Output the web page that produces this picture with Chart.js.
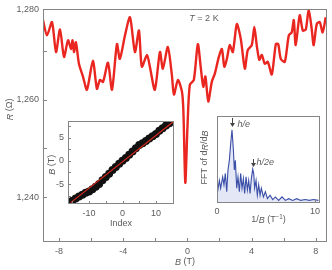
<!DOCTYPE html>
<html>
<head>
<meta charset="utf-8">
<script src="https://cdn.jsdelivr.net/npm/chart.js@4"></script>
<style>
body { margin: 0; background: #fff; }
#wrap { position: relative; width: 332px; height: 270px; }
canvas { position: absolute; }
</style>
</head>
<body>
<div id="wrap">
<canvas id="main" width="332" height="270" style="left:0px;top:0px"></canvas>
<canvas id="idx" width="134" height="120" style="left:44px;top:112px"></canvas>
<canvas id="fft" width="128" height="120" style="left:198px;top:110px"></canvas>
</div>
<script>
// main trace, R against B
const fieldB = [-9.00,-8.75,-8.44,-8.19,-7.94,-7.69,-7.44,-7.25,-7.16,-7.07,-6.95,-6.76,-6.51,-6.26,-5.89,-5.64,-5.45,-5.26,-4.95,-4.70,-4.39,-4.21,-3.89,-3.58,-3.27,-3.02,-2.84,-2.52,-2.34,-2.03,-1.71,-1.53,-1.22,-0.97,-0.84,-0.59,-0.34,-0.25,-0.13,0.00,0.15,0.40,0.65,0.84,0.99,1.12,1.30,1.52,1.71,1.96,2.15,2.30,2.46,2.64,2.83,3.08,3.33,3.58,3.76,4.01,4.17,4.32,4.48,4.64,4.82,5.01,5.26,5.51,5.66,5.82,6.07,6.32,6.50,6.63,6.75,7.00,7.19,7.38,7.56,7.75,7.87,8.06,8.25,8.43,8.62];
const resistance = [1276.2,1273.1,1275.8,1269.7,1274.3,1268.7,1272.1,1270.3,1272.1,1269.7,1271.7,1267.3,1264.7,1262.0,1267.9,1262.2,1264.0,1263.6,1267.5,1262.0,1271.3,1268.3,1273.1,1276.8,1269.7,1274.1,1266.7,1269.1,1266.7,1262.0,1269.7,1266.3,1270.7,1265.1,1261.0,1264.0,1261.6,1257.6,1243.0,1254.1,1263.0,1264.0,1271.3,1266.3,1262.6,1264.7,1259.6,1263.6,1265.3,1268.7,1270.3,1266.7,1268.3,1271.1,1269.7,1275.4,1272.3,1266.3,1270.1,1271.1,1274.8,1271.1,1268.1,1269.1,1267.3,1267.7,1265.1,1271.3,1271.3,1268.3,1267.7,1273.1,1273.7,1276.2,1271.1,1277.2,1274.1,1274.3,1278.4,1274.3,1271.1,1275.4,1275.8,1273.7,1276.8];
const bTicks = [-8, -6, -4, -2, 0, 2, 4, 6, 8];
const bTickLabels = ['-8', '', '-4', '', '0', '', '4', '', '8'];
const rTicks = [1240, 1250, 1260, 1270, 1278.4];
const rTickLabels = ['1,240', '', '1,260', '', '1,280'];

// left inset, B against Landau index
const landauIndex = [-15,-14,-13,-12,-11,-10,-9,-8,-7,-6,-5,-4,-3,-2,-1,0,1,2,3,4,5,6,7,8,9,10,11,12,13,14,15];
const indexField = [-8.6,-8.1,-7.7,-7.3,-6.9,-6.6,-6.1,-5.6,-5.0,-4.2,-3.5,-2.8,-2.0,-1.3,-0.6,0.0,0.6,1.3,2.0,2.7,3.4,3.8,4.3,4.8,5.3,5.8,6.5,7.0,7.6,8.1,8.5];
const fitIndex = [-15.5, 15.5];
const fitField = [-9.0, 8.6];
const idxTicks = [-15, -10, -5, 0, 5, 10, 15];
const idxTickLabels = ['', '-10', '', '0', '', '10', ''];
const ibTicks = [-7.5, -5, -2.5, 0, 2.5, 5, 7.5];
const ibTickLabels = ['', '-5', '', '0', '', '5', ''];

// right inset, FFT of dR/dB
const inverseB = [0.03,0.24,0.37,0.58,0.71,0.85,0.99,1.12,1.26,1.40,1.53,1.67,1.77,1.87,2.01,2.14,2.28,2.41,2.55,2.69,2.82,2.96,3.10,3.23,3.37,3.50,3.64,3.74,3.84,3.98,4.11,4.25,4.39,4.52,4.73,4.93,5.14,5.41,5.68,5.95,6.29,6.63,6.97,7.31,7.72,8.13,8.54,8.98,9.42,9.83,10.34];
const fftAmp = [11,26,17,30,21,34,13,38,49,69,84,61,38,49,17,30,13,34,17,28,11,30,15,26,11,28,39,34,17,26,9,21,9,17,7,13,5,9,4,7,3,7,3,5,3,5,3,4,3,4,3];
const peakHe = 1.53;
const peakH2e = 3.64;

const FONT = '"Liberation Sans", Arial, sans-serif';
const TXT = '#5c5c5c';
const FRAME = '#858585';

function richText(ctx, parts, x, y, rot, size) {
  ctx.save();
  ctx.translate(x, y);
  ctx.rotate(rot || 0);
  ctx.fillStyle = TXT;
  ctx.textBaseline = 'middle';
  const fontOf = p => (p[1] ? 'italic ' : '') + (p[2] ? size * 0.7 : size) + 'px ' + FONT;
  let total = 0;
  parts.forEach(p => { ctx.font = fontOf(p); total += ctx.measureText(p[0]).width; });
  let cx = -total / 2;
  parts.forEach(p => {
    ctx.font = fontOf(p);
    ctx.fillText(p[0], cx, p[2] ? -size * 0.3 : 0);
    cx += ctx.measureText(p[0]).width;
  });
  ctx.restore();
}

// box, inward ticks and the free texts of one panel
function framePlugin(tick, texts, extra) {
  return {
    id: 'frame',
    afterDatasetsDraw(chart) {
      const ctx = chart.ctx;
      const a = chart.chartArea;
      const xs = chart.scales.x, ys = chart.scales.y;
      ctx.save();
      ctx.strokeStyle = FRAME;
      ctx.lineWidth = 1;
      ctx.strokeRect(Math.round(a.left) + 0.5, Math.round(a.top) + 0.5, Math.round(a.right - a.left) - 1, Math.round(a.bottom - a.top) - 1);
      ctx.beginPath();
      xs.ticks.forEach(t => {
        const px = Math.round(xs.getPixelForValue(t.value)) + 0.5;
        ctx.moveTo(px, a.bottom);
        ctx.lineTo(px, a.bottom - tick);
      });
      if (ys.options.ticks.display !== false) {
        ys.ticks.forEach(t => {
          const py = Math.round(ys.getPixelForValue(t.value)) + 0.5;
          ctx.moveTo(a.left, py);
          ctx.lineTo(a.left + tick, py);
        });
      }
      ctx.stroke();
      texts.forEach(t => richText(ctx, t.parts, t.x(a), t.y(a), t.rot, t.size));
      if (extra) extra(chart);
      ctx.restore();
    }
  };
}

function tickAxis(values, labels, extra) {
  return Object.assign({
    type: 'linear',
    grid: { display: false, drawTicks: false },
    border: { display: false },
    afterBuildTicks: axis => { axis.ticks = values.map(v => ({ value: v })); },
    ticks: {
      autoSkip: false,
      maxRotation: 0,
      color: TXT,
      font: { family: FONT, size: 9 },
      callback: v => labels[values.indexOf(v)] ?? ''
    }
  }, extra);
}

Chart.defaults.font.family = FONT;

new Chart(document.getElementById('main'), {
  type: 'line',
  data: {
    datasets: [{
      data: fieldB.map((b, i) => ({ x: b, y: resistance[i] })),
      borderColor: '#ea2620',
      borderWidth: 2.4,
      pointRadius: 0,
      tension: 0.25
    }]
  },
  options: {
    responsive: false,
    animation: false,
    layout: { padding: { left: 0, right: 5, top: 7, bottom: 0 } },
    plugins: { legend: { display: false }, tooltip: { enabled: false } },
    scales: {
      x: tickAxis(bTicks, bTickLabels, { min: -9, max: 8.7, afterFit: s => { s.height = 28; } }),
      y: tickAxis(rTicks, rTickLabels, { min: 1230.9, max: 1278.4, afterFit: s => { s.width = 43; } })
    }
  },
  plugins: [framePlugin(4, [
    { parts: [['R', true], [' (Ω)']], x: a => a.left - 33, y: a => a.top + 100, rot: -Math.PI / 2, size: 9 },
    { parts: [['B', true], [' (T)']], x: a => (a.left + a.right) / 2, y: a => a.bottom + 20, size: 9 },
    { parts: [['T', true], [' = 2 K']], x: a => a.left + 161, y: a => a.top + 9, size: 9 }
  ])]
});

// tick label padding for the main axes
const mainChart = Chart.getChart('main');
mainChart.options.scales.x.ticks.padding = 4;
mainChart.options.scales.y.ticks.padding = 4;
mainChart.update();

new Chart(document.getElementById('idx'), {
  type: 'line',
  data: {
    datasets: [{
      data: fitIndex.map((n, i) => ({ x: n, y: fitField[i] })),
      borderColor: '#d8281e',
      borderWidth: 1.2,
      pointRadius: 0
    }, {
      data: landauIndex.map((n, i) => ({ x: n, y: indexField[i] })),
      showLine: false,
      pointRadius: 4,
      pointBackgroundColor: '#111',
      pointBorderWidth: 0
    }]
  },
  options: {
    responsive: false,
    animation: false,
    layout: { padding: { left: 0, right: 4, top: 5, bottom: 0 } },
    plugins: { legend: { display: false }, tooltip: { enabled: false } },
    scales: {
      x: tickAxis(idxTicks, idxTickLabels, { min: -16.3, max: 15.4, afterFit: s => { s.height = 28; } }),
      y: tickAxis(ibTicks, ibTickLabels, { min: -9.3, max: 8.5, afterFit: s => { s.width = 24; } })
    }
  },
  plugins: [framePlugin(3, [
    { parts: [['B', true], [' (T)']], x: a => a.left - 16, y: a => (a.top + a.bottom) / 2 + 2, rot: -Math.PI / 2, size: 9 },
    { parts: [['Index']], x: a => (a.left + a.right) / 2, y: a => a.bottom + 20, size: 9 }
  ])]
});
const idxChart = Chart.getChart('idx');
idxChart.options.scales.x.ticks.padding = 4;
idxChart.options.scales.y.ticks.padding = 4;
idxChart.update();

function drawArrow(ctx, x, y0, y1) {
  ctx.strokeStyle = '#444';
  ctx.fillStyle = '#444';
  ctx.lineWidth = 1;
  ctx.beginPath();
  ctx.moveTo(x, y0);
  ctx.lineTo(x, y1 - 3);
  ctx.stroke();
  ctx.beginPath();
  ctx.moveTo(x - 2.5, y1 - 4);
  ctx.lineTo(x + 2.5, y1 - 4);
  ctx.lineTo(x, y1);
  ctx.closePath();
  ctx.fill();
}

new Chart(document.getElementById('fft'), {
  type: 'line',
  data: {
    datasets: [{
      data: inverseB.map((f, i) => ({ x: f, y: fftAmp[i] })),
      borderColor: '#3a4ea8',
      backgroundColor: 'rgba(130,145,210,0.22)',
      fill: 'origin',
      borderWidth: 1.1,
      pointRadius: 0,
      tension: 0
    }]
  },
  options: {
    responsive: false,
    animation: false,
    layout: { padding: { left: 0, right: 6, top: 6, bottom: 0 } },
    plugins: { legend: { display: false }, tooltip: { enabled: false } },
    scales: {
      x: tickAxis([0, 10], ['0', '10'], { min: 0, max: 10.5, afterFit: s => { s.height = 27; } }),
      y: { type: 'linear', min: 0, max: 100, grid: { display: false, drawTicks: false }, border: { display: false },
           ticks: { display: false }, afterFit: s => { s.width = 19; } }
    }
  },
  plugins: [framePlugin(3, [
    { parts: [['FFT of d'], ['R', true], ['/d'], ['B', true]], x: a => a.left - 12, y: a => (a.top + a.bottom) / 2 - 2, rot: -Math.PI / 2, size: 9 },
    { parts: [['1/'], ['B', true], [' (T'], ['−1', false, true], [')']], x: a => (a.left + a.right) / 2, y: a => a.bottom + 17, size: 9 }
  ], chart => {
    const ctx = chart.ctx;
    const a = chart.chartArea;
    const xs = chart.scales.x, ys = chart.scales.y;
    const x1 = Math.round(xs.getPixelForValue(peakHe)) + 0.5;
    drawArrow(ctx, x1, a.top + 2, a.top + 11);
    ctx.fillStyle = TXT;
    ctx.textBaseline = 'middle';
    ctx.font = 'italic 9px ' + FONT;
    ctx.fillText('h/e', x1 + 5, a.top + 8);
    const x2 = Math.round(xs.getPixelForValue(peakH2e)) + 0.5;
    const top2 = ys.getPixelForValue(fftAmp[inverseB.indexOf(peakH2e)]);
    drawArrow(ctx, x2, top2 - 10, top2 - 2);
    ctx.fillStyle = TXT;
    ctx.fillText('h/2e', x2 + 3, top2 - 7);
  })]
});
const fftChart = Chart.getChart('fft');
fftChart.options.scales.x.ticks.padding = 3;
fftChart.update();
</script>
</body>
</html>
